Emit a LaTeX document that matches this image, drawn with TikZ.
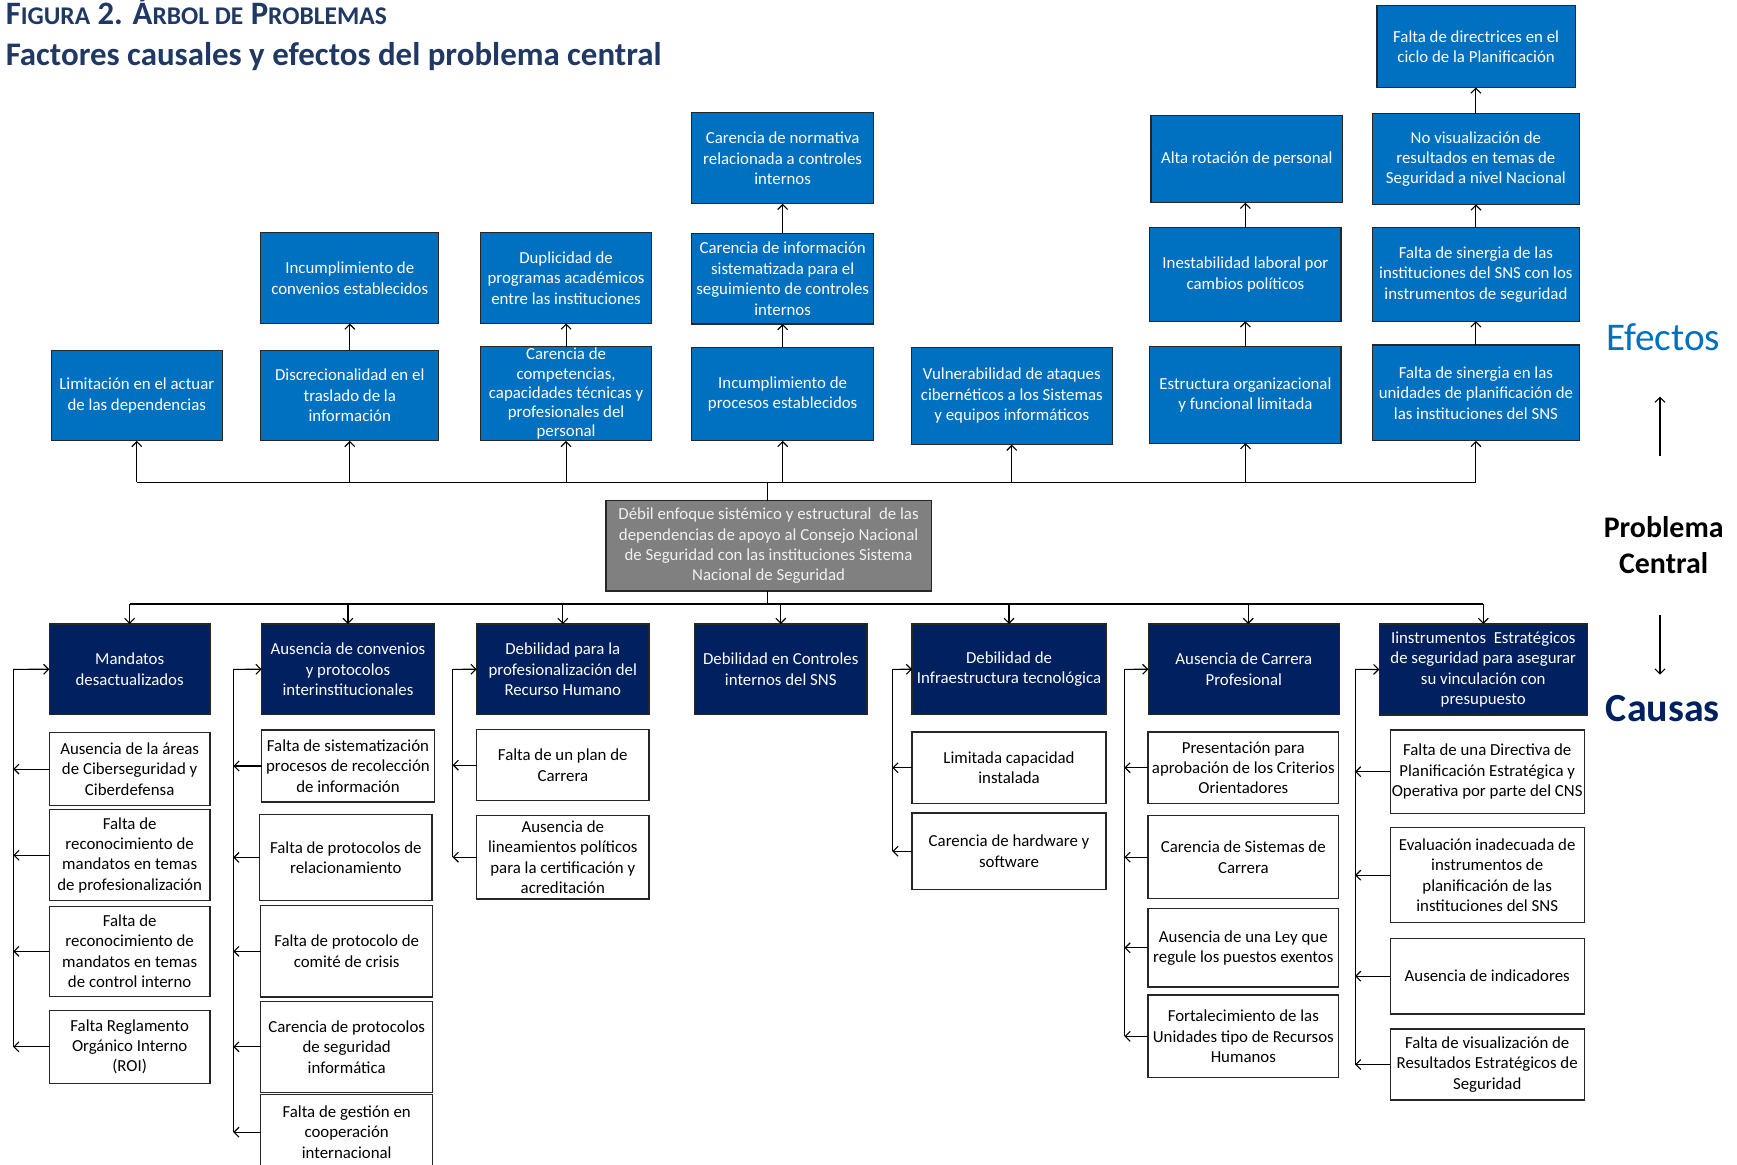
\documentclass[tikz,border=0pt]{standalone}
\usepackage{fontspec}
\setmainfont{Carlito}
\usetikzlibrary{arrows.meta,calc}
\definecolor{effblue}{RGB}{0,112,192}
\definecolor{causnavy}{RGB}{0,32,96}
\definecolor{titblue}{RGB}{31,56,100}
\definecolor{centgray}{RGB}{128,128,128}
\newcommand\mkbox[7]{%
  \pgfmathsetmacro\bxcx{(#3+#5)/2}\pgfmathsetmacro\bxcy{(#4+#6)/2}%
  \pgfmathsetmacro\bxw{#5-#3}\pgfmathsetmacro\bxh{#6-#4}%
  \node[#1, minimum width=\bxw pt, minimum height=\bxh pt] (#2) at (\bxcx,\bxcy) {#7};}
\begin{document}
\begin{tikzpicture}[x=1pt,y=-1pt,
  basebox/.style={rectangle, inner sep=0pt, outer sep=0pt, align=center, font=\fontsize{15.2}{18.4}\selectfont, line width=1pt, draw=black!85},
  eff/.style={basebox, fill=effblue, text=white},
  cause/.style={basebox, fill=causnavy, text=white},
  sub/.style={basebox, fill=white, text=black},
  centbox/.style={basebox, fill=centgray, text=white!94!black},
  ln/.style={line width=1pt, draw=black},
  arr/.style={ln, -{Straight Barb[length=4.5pt,width=9pt]}},
  lbl/.style={inner sep=0pt, anchor=base}]
\useasboundingbox (0,0) rectangle (1568,1051);
\fill[white] (0,0) rectangle (1568,1051);
\clip (0,0) rectangle (1568,1051);

% titles
\node[anchor=base west, inner sep=0pt, text=titblue, font=\bfseries\fontsize{29.5}{30}\selectfont] (tit1) at (5,22)
  {F{\fontsize{23}{24}\selectfont IGURA} 2. Á{\fontsize{23}{24}\selectfont RBOL DE} P{\fontsize{23}{24}\selectfont ROBLEMAS}};
\node[anchor=base west, inner sep=0pt, text=titblue, font=\bfseries\fontsize{29.7}{32}\selectfont] (tit2) at (5,59.5)
  {Factores causales y efectos del problema central};

% effects
\mkbox{eff}{lim}{46.5}{316}{200.5}{398}{Limitación en el actuar\\de las dependencias}
\mkbox{eff}{disc}{235.5}{316}{396}{398}{Discrecionalidad en el\\traslado de la\\información}
\mkbox{eff}{incconv}{235.5}{210}{396}{292}{Incumplimiento de\\convenios establecidos}
\mkbox{eff,font=\fontsize{15.2}{17.3}\selectfont}{comp}{434}{313}{588}{398}{Carencia de\\competencias,\\capacidades técnicas y\\profesionales del\\personal}
\mkbox{eff}{dupl}{434}{210}{588}{292}{Duplicidad de\\programas académicos\\entre las instituciones}
\mkbox{eff}{incproc}{624.5}{313.3}{788.5}{398}{Incumplimiento de\\procesos establecidos}
\mkbox{eff}{carinf}{624.5}{210.6}{788.5}{292.5}{Carencia de información\\sistematizada para el\\seguimiento de controles\\internos}
\mkbox{eff}{carnorm}{624.5}{101.7}{788.5}{184}{Carencia de normativa\\relacionada a controles\\internos}
\mkbox{eff}{vuln}{822.7}{313.3}{1004}{401.4}{Vulnerabilidad de ataques\\cibernéticos a los Sistemas\\y equipos informáticos}
\mkbox{eff}{estr}{1038}{313}{1210.5}{400}{Estructura organizacional\\y funcional limitada}
\mkbox{eff}{inest}{1038}{205.5}{1210.5}{290}{Inestabilidad laboral por\\cambios políticos}
\mkbox{eff}{alta}{1039}{104}{1212}{183}{Alta rotación de personal}
\mkbox{eff}{sinuno}{1238.6}{311.4}{1426}{398}{Falta de sinergia en las\\unidades de planificación de\\las instituciones del SNS}
\mkbox{eff}{sindos}{1238.6}{205.5}{1426}{290}{Falta de sinergia de las\\instituciones del SNS con los\\instrumentos de seguridad}
\mkbox{eff}{novis}{1238.6}{102.6}{1426}{184.5}{No visualización de\\resultados en temas de\\Seguridad a nivel Nacional}
\mkbox{eff}{direc}{1243}{5}{1422}{79}{Falta de directrices en el\\ciclo de la Planificación}

% central problem
\mkbox{centbox}{cent}{547}{452}{840.6}{533.5}{Débil enfoque sistémico y estructural\ \ de las\\dependencias de apoyo al Consejo Nacional\\de Seguridad con las instituciones Sistema\\Nacional de Seguridad}

% causes
\mkbox{cause}{mand}{44.5}{563.3}{189.6}{645}{Mandatos\\desactualizados}
\mkbox{cause}{conv}{236.2}{563.3}{392}{645}{Ausencia de convenios\\y protocolos\\interinstitucionales}
\mkbox{cause}{prof}{430.3}{563.3}{585.8}{645}{Debilidad para la\\profesionalización del\\Recurso Humano}
\mkbox{cause}{ctrl}{627}{563.3}{782.6}{645}{Debilidad en Controles\\internos del SNS}
\mkbox{cause}{infra}{823.3}{563.3}{998.4}{645}{Debilidad de\\Infraestructura tecnológica}
\mkbox{cause}{carr}{1036.6}{563.3}{1209}{645}{Ausencia de Carrera\\Profesional}
\mkbox{cause}{instr}{1245.1}{563.3}{1432.8}{645.4}{Iinstrumentos\ \ Estratégicos\\de seguridad para asegurar\\su vinculación con\\presupuesto}

% sub-causes
\mkbox{sub}{ca}{44.5}{661.5}{189.6}{727}{Ausencia de la áreas\\de Ciberseguridad y\\Ciberdefensa}
\mkbox{sub}{cb}{44.5}{731}{189.6}{813}{Falta de\\reconocimiento de\\mandatos en temas\\de profesionalización}
\mkbox{sub}{cc}{44.5}{818}{189.6}{899.5}{Falta de\\reconocimiento de\\mandatos en temas\\de control interno}
\mkbox{sub}{cd}{44.5}{912}{189.6}{978}{Falta Reglamento\\Orgánico Interno\\(ROI)}

\mkbox{sub}{da}{236.2}{659}{392}{724}{Falta de sistematización\\procesos de recolección\\de información}
\mkbox{sub}{db}{234.4}{735}{390}{813}{Falta de protocolos de\\relacionamiento}
\mkbox{sub}{dc}{235.3}{817.5}{390.6}{900}{Falta de protocolo de\\comité de crisis}
\mkbox{sub}{dd}{235.3}{904}{390.6}{986}{Carencia de protocolos\\de seguridad\\informática}
\mkbox{sub}{de}{235.3}{988}{390.6}{1056}{Falta de gestión en\\cooperación\\internacional}

\mkbox{sub}{ea}{430.3}{658.4}{585.8}{723}{Falta de un plan de\\Carrera}
\mkbox{sub}{eb}{430.3}{736}{585.8}{811.5}{Ausencia de\\lineamientos políticos\\para la certificación y\\acreditación}

\mkbox{sub}{fa}{823.3}{660.8}{998.4}{725.2}{Limitada capacidad\\instalada}
\mkbox{sub}{fb}{823.3}{733.9}{998.4}{802.8}{Carencia de hardware y\\software}

\mkbox{sub}{ga}{1036.3}{660.8}{1208.4}{725.2}{Presentación para\\aprobación de los Criterios\\Orientadores}
\mkbox{sub}{gb}{1036.3}{736.3}{1208.4}{811.2}{Carencia de Sistemas de\\Carrera}
\mkbox{sub}{gc}{1036.3}{820.2}{1208.4}{891}{Ausencia de una Ley que\\regule los puestos exentos}
\mkbox{sub}{gd}{1036.3}{898.2}{1208.4}{972.8}{Fortalecimiento de las\\Unidades tipo de Recursos\\Humanos}

\mkbox{sub}{ha}{1255}{659}{1430}{734.2}{Falta de una Directiva de\\Planificación Estratégica y\\Operativa por parte del CNS}
\mkbox{sub}{hb}{1255}{747.1}{1430}{832.9}{Evaluación inadecuada de\\instrumentos de\\planificación de las\\instituciones del SNS}
\mkbox{sub}{hc}{1255}{847}{1430}{915.3}{Ausencia de indicadores}
\mkbox{sub}{hd}{1255}{928.9}{1430}{993}{Falta de visualización de\\Resultados Estratégicos de\\Seguridad}

% ---- effect connectors
\coordinate (effl) at (693,435.5);
\draw[ln] (cent.north -| effl) -- (effl);
\draw[ln] (effl -| lim.south) -- (effl -| sinuno.south);
\foreach \n in {lim,disc,comp,incproc,vuln,estr,sinuno}
  \draw[arr] (effl -| \n.south) -- (\n.south);
\draw[arr] (disc.north) -- (incconv.south);
\draw[arr] (comp.north) -- (dupl.south);
\draw[arr] (incproc.north) -- (carinf.south);
\draw[arr] (carinf.north) -- (carnorm.south);
\draw[arr] (estr.north) -- (inest.south);
\draw[arr] (inest.north) -- (inest.north |- alta.south);
\draw[arr] (sinuno.north) -- (sindos.south);
\draw[arr] (sindos.north) -- (novis.south);
\draw[arr] (novis.north) -- (novis.north |- direc.south);

% ---- cause connectors
\coordinate (causl) at (693,545.2);
\draw[ln] (cent.south -| causl) -- (causl);
\draw[ln] (causl -| mand.north) -- (causl -| instr.north);
\foreach \n in {mand,conv,prof,ctrl,infra,instr}
  \draw[arr] (causl -| \n.north) -- (\n.north);
\draw[arr] (causl -| {$(carr.north)+(4,0)$}) -- ($(carr.north)+(4,0)$);

\coordinate (bka) at (12,604.2);
\coordinate (bkb) at (210.6,604.2);
\coordinate (bkc) at (408.6,604.2);
\coordinate (bkd) at (805.5,604.2);
\coordinate (bke) at (1015,604.2);
\coordinate (bkf) at (1223.2,604.2);

\draw[arr] (bka) -- (mand.west);
\draw[ln] (bka) -- (bka |- cd.west);
\foreach \n in {ca,cb,cc,cd} \draw[arr] (\n.west) -- (\n.west -| bka);

\draw[arr] (bkb) -- (conv.west);
\draw[ln] (bkb) -- (bkb |- de.west);
\foreach \n in {da,db,dc,dd,de} \draw[arr] (\n.west) -- (\n.west -| bkb);

\draw[arr] (bkc) -- (prof.west);
\draw[ln] (bkc) -- (bkc |- eb.west);
\foreach \n in {ea,eb} \draw[arr] (\n.west) -- (\n.west -| bkc);

\draw[arr] (bkd) -- (infra.west);
\draw[ln] (bkd) -- (bkd |- fb.west);
\foreach \n in {fa,fb} \draw[arr] (\n.west) -- (\n.west -| bkd);

\draw[arr] (bke) -- (carr.west);
\draw[ln] (bke) -- (bke |- gd.west);
\foreach \n in {ga,gb,gc,gd} \draw[arr] (\n.west) -- (\n.west -| bke);

\draw[arr] (bkf) -- (instr.west);
\draw[ln] (bkf) -- (bkf |- hd.west);
\foreach \n in {ha,hb,hc,hd} \draw[arr] (\n.west) -- (\n.west -| bkf);

% ---- right-hand legend
\node[lbl, text=effblue, font=\fontsize{35.4}{40}\selectfont] (efectos) at (1501.5,316) {Efectos};
\coordinate (upa) at (1498.5,412);
\coordinate (upb) at (1498.5,358);
\draw[arr] (upa) -- (upb);
\node[lbl, font=\bfseries\fontsize{27}{32}\selectfont] (probl) at (1501.8,485.3) {Problema};
\node[lbl, font=\bfseries\fontsize{27}{32}\selectfont] (centr) at (1501.8,517.5) {Central};
\coordinate (dna) at (1498.5,555);
\coordinate (dnb) at (1498.5,609);
\draw[arr] (dna) -- (dnb);
\node[lbl, text=causnavy, font=\bfseries\fontsize{36}{40}\selectfont] (causas) at (1501,651.5) {Causas};
\end{tikzpicture}
\end{document}
